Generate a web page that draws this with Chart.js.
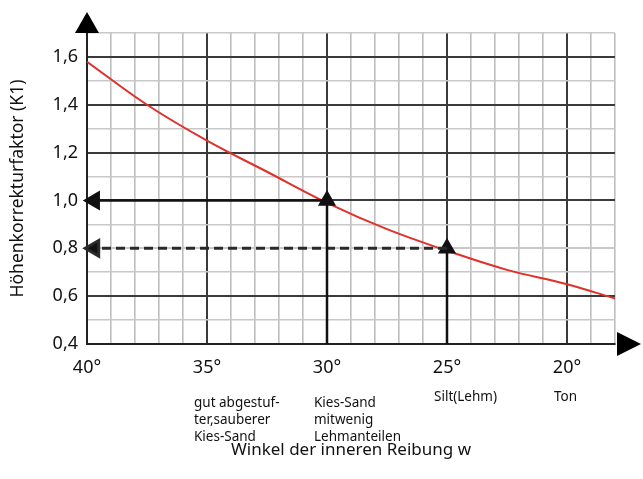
<!DOCTYPE html>
<html>
<head>
<meta charset="utf-8">
<script src="https://cdn.jsdelivr.net/npm/chart.js@4"></script>
<style>
  html, body { margin: 0; padding: 0; background: #fff; }
  #wrap { width: 643px; height: 479px; }
</style>
</head>
<body>
<div id="wrap"><canvas id="k1Chart"></canvas></div>
<script>
// --- data ---
const angles = [40, 37.5, 35, 32.5, 30, 27.5, 25, 22.5, 20, 18];
const k1Values = [1.58, 1.40, 1.25, 1.12, 0.99, 0.88, 0.79, 0.71, 0.65, 0.59];
const xTickLabels = [40, 35, 30, 25, 20];
const yTickLabels = [0.4, 0.6, 0.8, 1.0, 1.2, 1.4, 1.6];

// reading guides: 30° -> 1.0 (solid), 25° -> 0.8 (dashed)
const guide30 = { angle: 30, value: 1.0, leftEnd: 39.7 };
const guide25 = { angle: 25, value: 0.8, leftEnd: 39.7 };
const axisBase = 0.4;

const soilGroups = [
    { at: 35, lines: ['gut abgestuf-', 'ter,sauberer', 'Kies-Sand'] },
    { at: 30, lines: ['Kies-Sand', 'mitwenig', 'Lehmanteilen'] },
    { at: 25, lines: ['Silt(Lehm)'] },
    { at: 20, lines: ['Ton'] }
];

const FONT = '"Noto Sans", "DejaVu Sans", sans-serif';
const isMajorY = v => Math.round(v * 10) % 2 === 0;
const isMajorX = v => Math.round(v) % 5 === 0;
// the dashed guide sits on this grid line; keep it light so the gaps show
const isDashedRow = v => Math.abs(v - guide25.value) < 1e-6;

const extrasPlugin = {
    id: 'extras',
    afterDraw(chart) {
        const { ctx, chartArea: a, scales: { x } } = chart;
        ctx.save();
        ctx.fillStyle = '#000';
        // y-axis arrowhead
        ctx.beginPath();
        ctx.moveTo(a.left, a.top - 21);
        ctx.lineTo(a.left + 12, a.top);
        ctx.lineTo(a.left - 12, a.top);
        ctx.closePath();
        ctx.fill();
        // x-axis arrowhead
        ctx.beginPath();
        ctx.moveTo(a.right + 26, a.bottom);
        ctx.lineTo(a.right + 2, a.bottom - 12);
        ctx.lineTo(a.right + 2, a.bottom + 12);
        ctx.closePath();
        ctx.fill();
        // soil type notes under the ticks
        ctx.fillStyle = '#111';
        ctx.font = '13.5px ' + FONT;
        ctx.textAlign = 'left';
        ctx.textBaseline = 'middle';
        soilGroups.forEach(g => {
            const px = x.getPixelForValue(g.at) - 13;
            const y0 = g.lines.length > 1 ? 403 : 397;
            g.lines.forEach((t, i) => ctx.fillText(t, px, y0 + i * 17));
        });
        ctx.restore();
    }
};

const lineDataset = (pts, opts) => Object.assign({
    data: pts,
    borderColor: '#111',
    backgroundColor: '#111',
    borderWidth: 2.5,
    pointStyle: 'triangle',
    pointRadius: 0,
    tension: 0,
    clip: false
}, opts);

new Chart(document.getElementById('k1Chart'), {
    type: 'line',
    data: {
        datasets: [
            lineDataset(
                [{ x: guide30.angle, y: guide30.value }, { x: guide30.leftEnd, y: guide30.value }],
                { pointRadius: [0, 9], pointRotation: 270 }
            ),
            lineDataset(
                [{ x: guide30.angle, y: axisBase }, { x: guide30.angle, y: guide30.value }],
                { pointRadius: [0, 8] }
            ),
            lineDataset(
                [{ x: guide25.angle, y: guide25.value }, { x: guide25.leftEnd, y: guide25.value }],
                { pointRadius: [0, 9], pointRotation: 270, borderDash: [9, 5], borderWidth: 3, borderColor: '#2a2a2a' }
            ),
            lineDataset(
                [{ x: guide25.angle, y: axisBase }, { x: guide25.angle, y: guide25.value }],
                { pointRadius: [0, 8] }
            ),
            {
                label: 'K1',
                data: angles.map((a, i) => ({ x: a, y: k1Values[i] })),
                borderColor: '#e0302a',
                borderWidth: 2,
                pointRadius: 0,
                tension: 0.4
            }
        ]
    },
    options: {
        responsive: true,
        maintainAspectRatio: false,
        animation: false,
        layout: { padding: { top: 33, right: 28, left: 0, bottom: 0 } },
        scales: {
            x: {
                type: 'linear',
                reverse: true,
                min: 18,
                max: 40,
                afterFit: s => { s.height = 135; },
                afterBuildTicks: s => {
                    s.ticks = [];
                    for (let v = 18; v <= 40; v++) s.ticks.push({ value: v });
                },
                ticks: {
                    autoSkip: false,
                    maxRotation: 0,
                    padding: 13,
                    color: '#111',
                    font: { size: 18, family: FONT },
                    callback: v => xTickLabels.includes(v) ? v + '°' : ''
                },
                grid: {
                    drawTicks: false,
                    color: c => isMajorX(c.tick.value) ? '#3a3a3a' : '#bebebe',
                    lineWidth: c => isMajorX(c.tick.value) ? 2 : 1.6
                },
                border: { color: '#222', width: 2 },
                title: {
                    display: true,
                    text: 'Winkel der inneren Reibung w',
                    color: '#111',
                    font: { size: 17, family: FONT },
                    padding: { bottom: 19 }
                }
            },
            y: {
                min: 0.4,
                max: 1.7,
                afterFit: s => { s.width = 87; },
                afterBuildTicks: s => {
                    s.ticks = [];
                    for (let i = 4; i <= 17; i++) s.ticks.push({ value: i / 10 });
                },
                ticks: {
                    autoSkip: false,
                    padding: 9,
                    color: '#111',
                    font: { size: 18, family: FONT },
                    callback: v => yTickLabels.some(t => Math.abs(t - v) < 1e-6) ? v.toFixed(1).replace('.', ',') : ''
                },
                grid: {
                    drawTicks: false,
                    color: c => (isMajorY(c.tick.value) && !isDashedRow(c.tick.value)) ? '#3a3a3a' : '#c8c8c8',
                    lineWidth: c => isMajorY(c.tick.value) ? 2 : 1.6
                },
                border: { color: '#222', width: 2 },
                title: {
                    display: true,
                    text: 'Höhenkorrekturfaktor (K1)',
                    color: '#111',
                    font: { size: 17.5, family: FONT },
                    padding: { top: 8 }
                }
            }
        },
        plugins: {
            legend: { display: false },
            tooltip: { enabled: false }
        }
    },
    plugins: [extrasPlugin]
});
</script>
</body>
</html>
